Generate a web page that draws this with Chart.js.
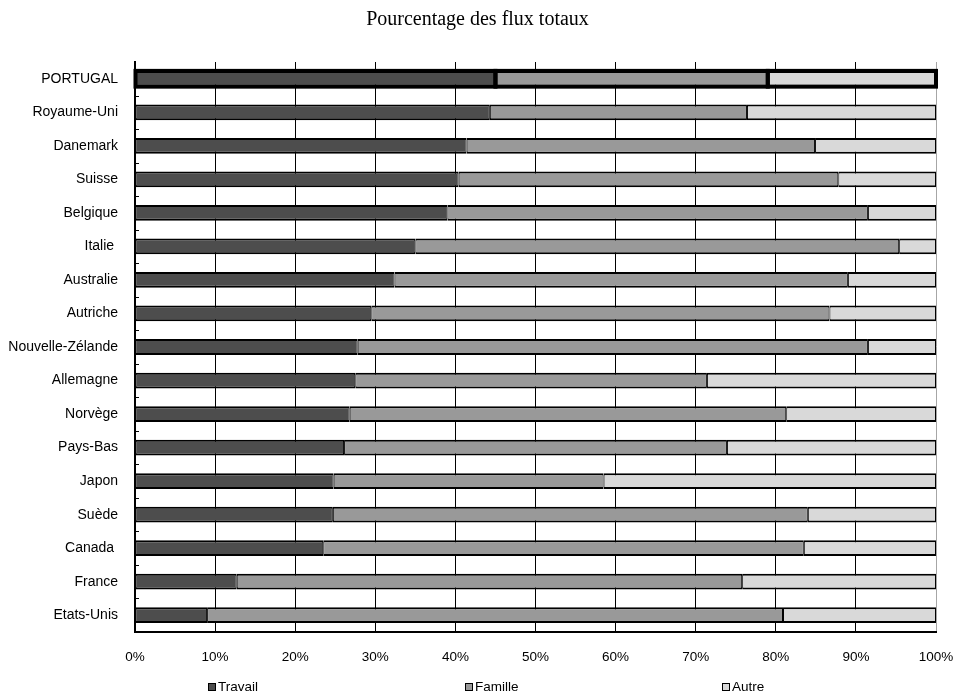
<!DOCTYPE html>
<html>
<head>
<meta charset="utf-8">
<script src="https://cdn.jsdelivr.net/npm/chart.js@4.4.1/dist/chart.umd.min.js"></script>
<style>
  html, body { margin: 0; padding: 0; background: #ffffff; }
  canvas { display: block; }
</style>
</head>
<body>
<canvas id="chart" width="955" height="692"></canvas>
<script>
// Share of total inflows by category of entry (percent)
const categories = ['PORTUGAL', 'Royaume-Uni', 'Danemark', 'Suisse', 'Belgique', 'Italie ', 'Australie',
  'Autriche', 'Nouvelle-Zélande', 'Allemagne', 'Norvège', 'Pays-Bas', 'Japon', 'Suède', 'Canada ',
  'France', 'Etats-Unis'];
const travail = [45.0, 44.3, 41.4, 40.4, 39.0, 35.0, 32.4, 29.5, 27.8, 27.5, 26.8, 26.1, 24.8, 24.7, 23.5, 12.7, 9.0];
const famille = [34.0, 32.1, 43.5, 47.4, 52.5, 60.4, 56.6, 57.2, 63.7, 43.9, 54.5, 47.8, 33.7, 59.3, 60.0, 63.1, 71.9];
const autre   = [21.0, 23.6, 15.1, 12.2, 8.5, 4.6, 11.0, 13.3, 8.5, 28.6, 18.7, 26.1, 41.5, 16.0, 16.5, 24.2, 19.1];
const seriesNames = ['Travail', 'Famille', 'Autre'];
const xTickStep = 10;
const highlightCategory = 'PORTUGAL';

const SANS = '"Liberation Sans", Arial, sans-serif';
const SERIF = '"Liberation Serif", "Times New Roman", serif';
const fills = ['#4d4d4d', '#999999', '#d9d9d9'];

// Thick outline around the highlighted country's stacked bar
const highlightOutline = {
  id: 'highlightOutline',
  afterDatasetsDraw(chart) {
    const idx = chart.data.labels.indexOf(highlightCategory);
    if (idx < 0) return;
    const ctx = chart.ctx;
    ctx.save();
    ctx.strokeStyle = '#000000';
    ctx.lineWidth = 4;
    chart.data.datasets.forEach((ds, di) => {
      const el = chart.getDatasetMeta(di).data[idx];
      const p = el.getProps(['x', 'y', 'base', 'height'], true);
      ctx.strokeRect(Math.min(p.x, p.base), p.y - p.height / 2, Math.abs(p.x - p.base), p.height);
    });
    ctx.restore();
  }
};

// Short tick marks on the inner side of the category axis, between categories
const innerCategoryTicks = {
  id: 'innerCategoryTicks',
  afterDatasetsDraw(chart) {
    const ys = chart.scales.y;
    const left = chart.chartArea.left;
    const ctx = chart.ctx;
    ctx.save();
    ctx.strokeStyle = '#000000';
    ctx.lineWidth = 1;
    for (let i = 1; i < chart.data.labels.length; i++) {
      const yy = Math.round((ys.getPixelForValue(i - 1) + ys.getPixelForValue(i)) / 2) + 0.5;
      ctx.beginPath();
      ctx.moveTo(left, yy);
      ctx.lineTo(left + 4, yy);
      ctx.stroke();
    }
    ctx.restore();
  }
};

// Legend row along the bottom edge
const legendRow = { firstX: 208, step: 257, y: 687, box: 8 };
const bottomLegend = {
  id: 'bottomLegend',
  afterDraw(chart) {
    const ctx = chart.ctx;
    ctx.save();
    ctx.font = '13.5px ' + SANS;
    ctx.textBaseline = 'middle';
    ctx.textAlign = 'left';
    chart.data.datasets.forEach((ds, i) => {
      const x = legendRow.firstX + legendRow.step * i;
      const y = legendRow.y;
      const b = legendRow.box;
      ctx.fillStyle = ds.backgroundColor;
      ctx.fillRect(x, y - b / 2, b, b);
      ctx.strokeStyle = '#000000';
      ctx.lineWidth = 1;
      ctx.strokeRect(x + 0.5, y - b / 2 + 0.5, b - 1, b - 1);
      ctx.fillStyle = '#000000';
      ctx.fillText(ds.label, x + b + 2, y);
    });
    ctx.restore();
  }
};

const series = [travail, famille, autre];
const datasets = series.map((values, i) => ({
  label: seriesNames[i],
  data: values,
  backgroundColor: fills[i],
  borderColor: '#000000',
  borderWidth: { top: 2, bottom: 2, left: 1, right: 1 },
  borderSkipped: false,
  categoryPercentage: 0.47,
  barPercentage: 1.0
}));

new Chart(document.getElementById('chart'), {
  type: 'bar',
  data: { labels: categories, datasets },
  options: {
    indexAxis: 'y',
    responsive: false,
    animation: false,
    devicePixelRatio: 1,
    layout: { padding: { top: 0, right: 0, bottom: 20, left: 0 } },
    plugins: {
      legend: { display: false },
      tooltip: { enabled: false },
      title: {
        display: true,
        text: 'Pourcentage des flux totaux',
        color: '#000000',
        font: { family: SERIF, size: 20, weight: 'normal', lineHeight: 1.2 },
        padding: { top: 8, bottom: 30 }
      }
    },
    scales: {
      x: {
        stacked: true,
        min: 0,
        max: 100,
        ticks: {
          stepSize: xTickStep,
          color: '#000000',
          font: { family: SANS, size: 13.5 },
          padding: 17,
          maxRotation: 0,
          callback: v => v + '%'
        },
        grid: {
          color: ctx => (ctx.tick && ctx.tick.value === 100 ? '#a6a6a6' : '#000000'),
          lineWidth: 1,
          drawTicks: false
        },
        border: { display: true, color: '#000000', width: 2 },
        afterFit: s => { s.height = 40; s.paddingRight = 19; s.paddingLeft = 0; }
      },
      y: {
        stacked: true,
        ticks: {
          color: '#000000',
          font: { family: SANS, size: 14 },
          padding: 17,
          autoSkip: false
        },
        grid: { display: true, drawOnChartArea: false, drawTicks: false },
        border: { display: true, color: '#000000', width: 2 },
        afterFit: s => { s.width = 135; }
      }
    }
  },
  plugins: [highlightOutline, innerCategoryTicks, bottomLegend]
});
</script>
</body>
</html>
